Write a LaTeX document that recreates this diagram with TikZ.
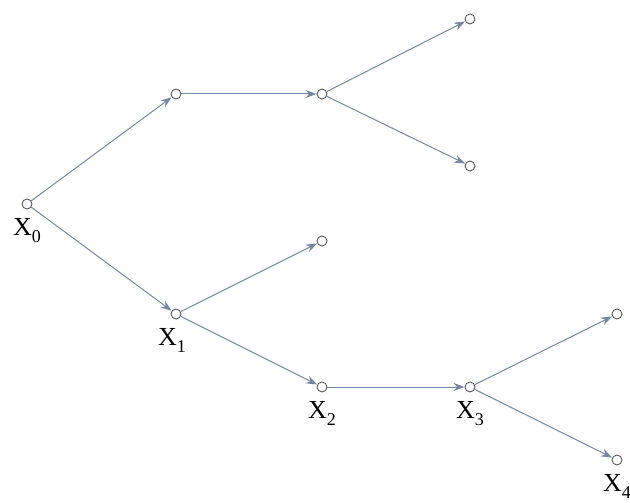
\documentclass[tikz,border=0pt]{standalone}
\usepackage{fontspec}
\setmainfont{Liberation Serif}
\usetikzlibrary{arrows.meta}
\definecolor{edgec}{RGB}{118,134,166}
\definecolor{nodec}{RGB}{90,90,90}
\newcommand{\xl}[1]{X\raisebox{-0.28em}{\fontsize{18}{18}\selectfont #1}}
\begin{document}
\begin{tikzpicture}[x=1pt,y=-1pt,
  vert/.style={circle,draw=nodec,fill=white,line width=0.9pt,minimum size=10pt,inner sep=0pt},
  edge/.style={draw=edgec,line width=1pt,-{Stealth[length=11pt,width=8pt]}},
  lab/.style={font=\fontsize{26}{26}\selectfont,inner sep=0pt,anchor=north}]
\useasboundingbox (0,0) rectangle (630,503);
\node[vert] (x0) at (27,204) {};
\node[vert] (a) at (176,94) {};
\node[vert] (b) at (322,94) {};
\node[vert] (c) at (470,19) {};
\node[vert] (d) at (470,166) {};
\node[vert] (x1) at (176,314) {};
\node[vert] (e) at (322,241) {};
\node[vert] (x2) at (322,387) {};
\node[vert] (x3) at (470,387) {};
\node[vert] (f) at (617,314) {};
\node[vert] (x4) at (617,460) {};
\draw[edge] (x0) -- (a);
\draw[edge] (a) -- (b);
\draw[edge] (b) -- (c);
\draw[edge] (b) -- (d);
\draw[edge] (x0) -- (x1);
\draw[edge] (x1) -- (e);
\draw[edge] (x1) -- (x2);
\draw[edge] (x2) -- (x3);
\draw[edge] (x3) -- (f);
\draw[edge] (x3) -- (x4);
\node[lab] (l0) at (27,218) {\xl{0}};
\node[lab] (l1) at (172,328) {\xl{1}};
\node[lab] (l2) at (322,401) {\xl{2}};
\node[lab] (l3) at (470,401) {\xl{3}};
\node[lab] (l4) at (617,474) {\xl{4}};
\end{tikzpicture}
\end{document}
